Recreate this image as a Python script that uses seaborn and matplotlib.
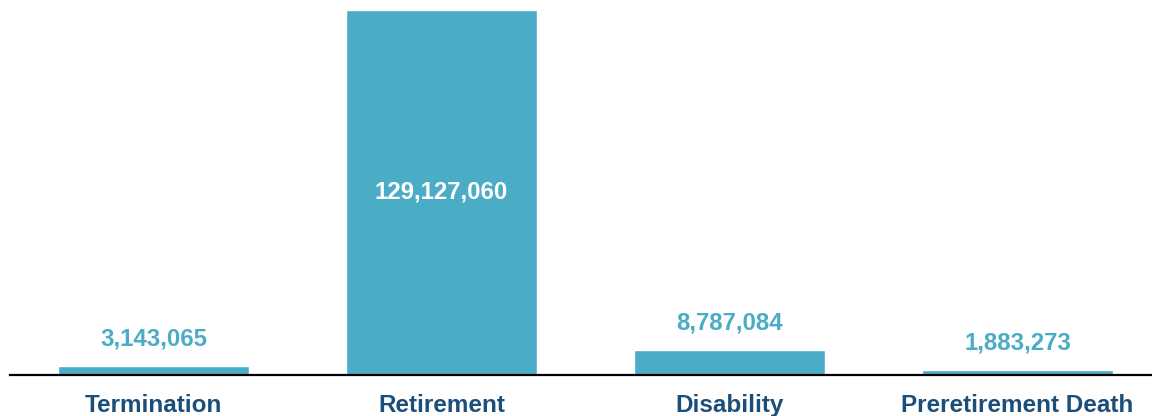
import matplotlib
matplotlib.use("Agg")
import matplotlib.pyplot as plt
import seaborn as sns
import pandas as pd

categories = ["Termination", "Retirement", "Disability", "Preretirement Death"]
values = [3143065, 129127060, 8787084, 1883273]

BAR = "#4BACC6"
NAVY = "#1B4F7A"

sns.set_theme(style="white")
plt.rcParams["font.family"] = ["Liberation Sans", "DejaVu Sans"]

df = pd.DataFrame({"category": categories, "value": values})

W, H = 1152, 416
fig = plt.figure(figsize=(W / 100, H / 100), dpi=100)
left_px, base_px, top_px = 9.5, 375, 10
ax = fig.add_axes([left_px / W, (H - base_px) / H, (W - left_px) / W, (base_px - top_px) / H])

sns.barplot(data=df, x="category", y="value", color=BAR, saturation=1, width=0.663, ax=ax)

ax.set_xlim(-0.5, 3.5 - left_px / 288)
ax.set_ylim(0, max(values))

for i, v in enumerate(values):
    label = f"{v:,}"
    if v > 0.5 * max(values):
        ax.text(i, v / 2, label, ha="center", va="center", color="white",
                fontsize=17.3, fontweight="bold")
    else:
        ax.annotate(label, (i, v), xytext=(0, 11), textcoords="offset points",
                    ha="center", va="bottom", color=BAR, fontsize=17.3, fontweight="bold")

for s in ["top", "right", "left"]:
    ax.spines[s].set_visible(False)
ax.spines["bottom"].set_color("black")
ax.spines["bottom"].set_linewidth(1.6)
ax.set_yticks([])
ax.set_xlabel("")
ax.set_ylabel("")
ax.tick_params(axis="x", length=0, pad=14)
for t in ax.get_xticklabels():
    t.set_fontsize(17.5)
    t.set_fontweight("bold")
    t.set_color(NAVY)

fig.savefig("out.png", dpi=100)
